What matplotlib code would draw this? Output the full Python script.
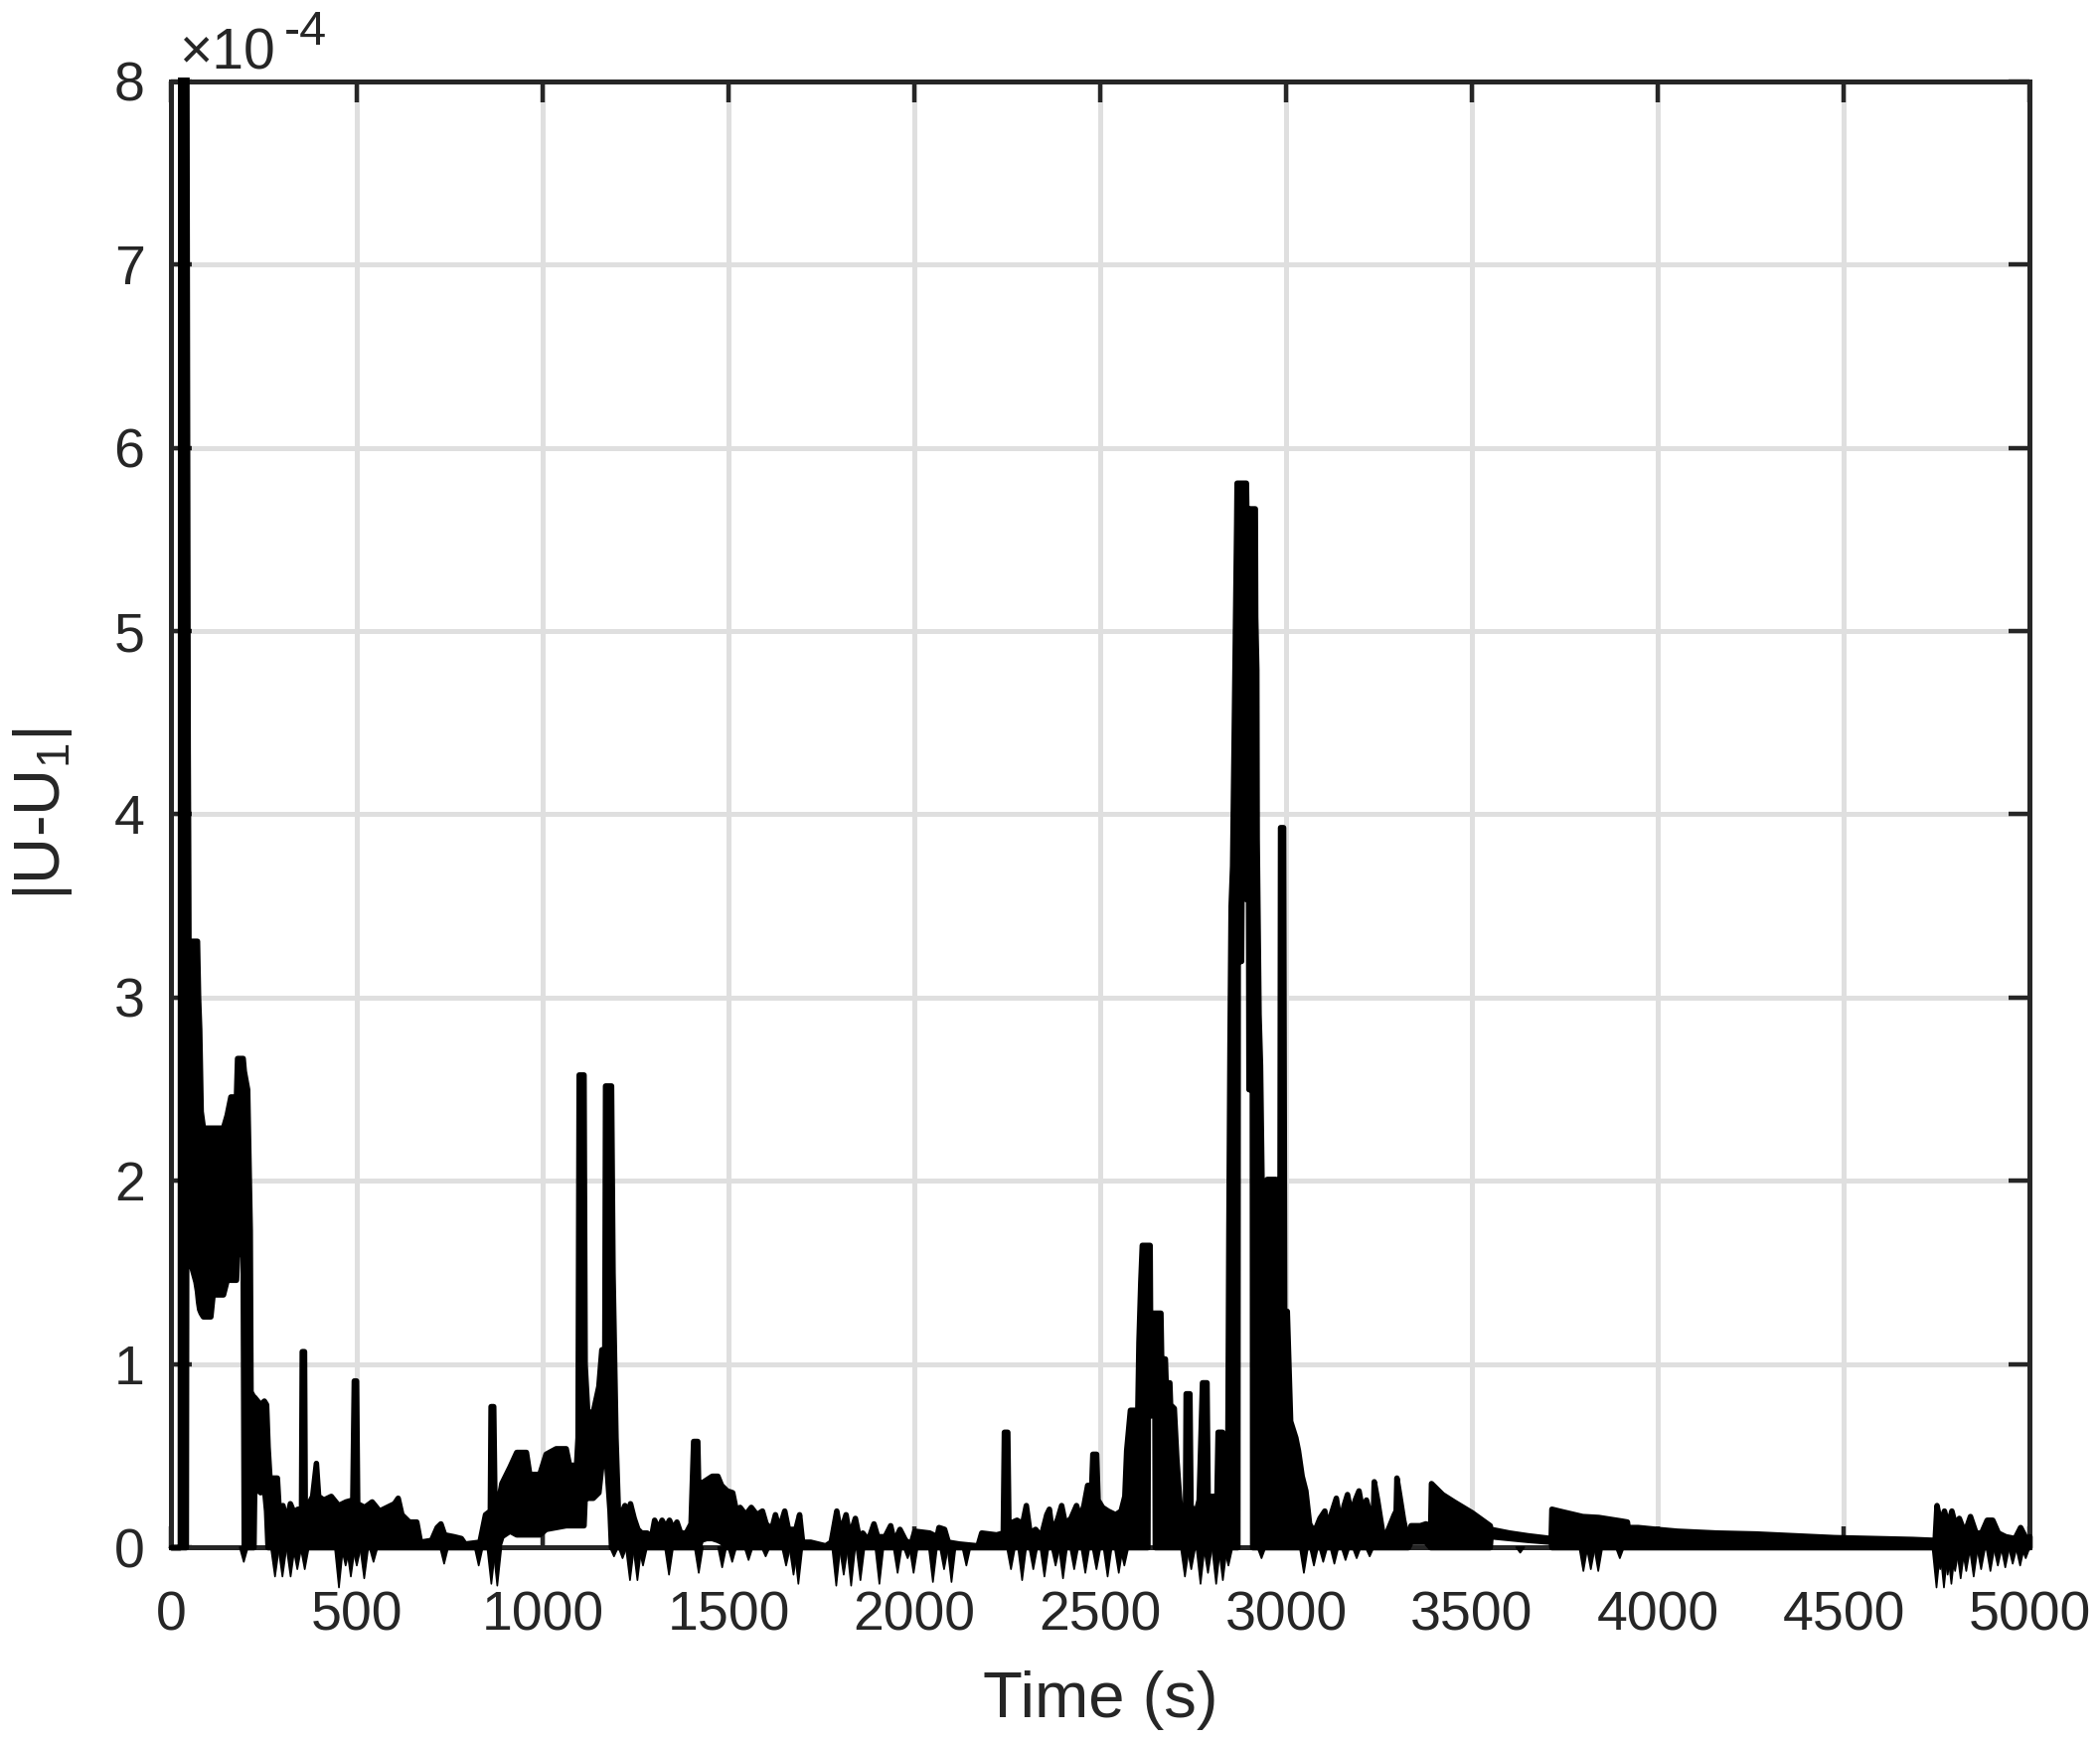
import matplotlib
matplotlib.use("Agg")
import matplotlib.pyplot as plt
from matplotlib.patches import Rectangle
from matplotlib.collections import PolyCollection

plt.rcParams['font.family'] = ['Liberation Sans', 'DejaVu Sans']
plt.rcParams['mathtext.fontset'] = 'custom'
plt.rcParams['mathtext.rm'] = 'Liberation Sans'
plt.rcParams['mathtext.it'] = 'Liberation Sans'
plt.rcParams['mathtext.default'] = 'regular'

INK = '#262626'
GRID = '#dfdfdf'

# |U-U1| in units of 1e-4. The trace oscillates so fast that it shows as a
# solid band, so each part is kept as time (s), lower edge, upper edge.
t_start = [0, 24, 25, 40, 41, 43, 44, 45, 46, 47, 66, 70, 73, 76, 80, 86,
           106, 112, 140, 150, 160, 175, 178, 193, 196, 205, 212, 214]
lo_start = [0, 0, 0, 0, 1.6, 1.6, 1.6, 1.6, 1.59, 1.59, 1.45, 1.4, 1.34, 1.3,
            1.28, 1.26, 1.26, 1.38, 1.38, 1.46, 1.46, 1.46, 1.6, 1.6, 0, 0,
            0, 0]
hi_start = [0, 0, 8.6, 8.6, 8.6, 6.4, 5.4, 4.35, 3.9, 3.31, 3.31, 3.31, 3.0,
            2.83, 2.38, 2.29, 2.29, 2.29, 2.29, 2.36, 2.46, 2.46, 2.67, 2.67,
            2.6, 2.5, 1.73, 0.85]

t_early = [222, 224, 240, 250, 256, 260, 265, 285, 290, 300, 310, 320, 330,
           340, 350, 352, 358, 360, 370, 380, 390, 396, 410, 430, 450, 470,
           488, 492, 498, 501, 520, 540, 560, 580, 600, 610, 620, 640, 660,
           670, 700, 715, 725, 735, 760, 780, 790, 830, 845, 858, 860, 867,
           870, 880, 889, 911, 929, 955, 964, 991, 1008, 1035, 1062, 1071,
           1090, 1094, 1097, 1110, 1113, 1120, 1135, 1150, 1158, 1166, 1168,
           1180, 1184, 1188, 1196, 1204]
lo_early = [0, 0.33, 0.3, 0.33, 0.2, 0, 0, 0, 0, 0, 0, 0, 0,
            0, 0, 0, 0, 0, 0, 0, 0, 0, 0, 0, 0, 0,
            0, 0, 0, 0, 0, 0, 0, 0, 0, 0, 0, 0, 0,
            0, 0, 0, 0, 0, 0, 0, 0, 0, 0, 0, 0, 0,
            0, 0, 0.06, 0.09, 0.07, 0.07, 0.07, 0.07, 0.1, 0.11, 0.12, 0.12,
            0.12, 0.12, 0.12, 0.12, 0.27, 0.27, 0.27, 0.3, 0.45, 0.58, 0.55,
            0.2, 0, 0, 0, 0]
hi_early = [0.82, 0.82, 0.78, 0.8, 0.78, 0.55, 0.38, 0.38, 0.2, 0.23, 0.14,
            0.24, 0.19, 0.21, 0.19, 1.07, 1.07, 0.2, 0.24, 0.28, 0.46, 0.28,
            0.26, 0.28, 0.23, 0.25, 0.26, 0.91, 0.91, 0.24, 0.22, 0.25, 0.2,
            0.22, 0.24, 0.27, 0.18, 0.14, 0.14, 0.03, 0.04, 0.11, 0.13, 0.07,
            0.06, 0.05, 0.02, 0.03, 0.18, 0.2, 0.77, 0.77, 0.3, 0.25, 0.35,
            0.44, 0.52, 0.52, 0.4, 0.4, 0.51, 0.54, 0.54, 0.45, 0.45, 0.6,
            2.58, 2.58, 1.0, 0.74, 0.74, 0.88, 1.08, 1.08, 2.52, 2.52, 2.52,
            1.5, 0.6, 0.1]

t_mid = [1210, 1220, 1230, 1235, 1245, 1255, 1265, 1280, 1290, 1300, 1310,
         1320, 1330, 1340, 1350, 1360, 1370, 1385, 1398, 1405, 1416, 1420,
         1425, 1440, 1455, 1470, 1480, 1495, 1510, 1520, 1530, 1545, 1560,
         1575, 1590, 1600, 1615, 1625, 1635, 1650, 1660, 1680, 1690, 1698,
         1720, 1740, 1760, 1775, 1790, 1800, 1815, 1825, 1840, 1850, 1860,
         1875, 1890, 1900, 1920, 1935, 1945, 1960, 1975, 1990, 2000, 2040,
         2060, 2065, 2080, 2090, 2120, 2170, 2180, 2220, 2238, 2241, 2250,
         2253, 2275, 2290, 2300, 2310, 2325, 2340, 2355, 2362, 2370, 2385,
         2395, 2405, 2420, 2435, 2445, 2455, 2465, 2476, 2479, 2489, 2493,
         2505, 2520, 2540, 2555]
lo_mid = [0] * 22 + [0.04, 0.05, 0.05, 0.04, 0.03] + [0] * 76
hi_mid = [0.18, 0.23, 0.18, 0.24, 0.16, 0.1, 0.08, 0.08, 0.04, 0.15, 0.1,
          0.15, 0.11, 0.15, 0.1, 0.14, 0.08, 0.08, 0.13, 0.58, 0.58, 0.18,
          0.35, 0.37, 0.39, 0.39, 0.34, 0.31, 0.3, 0.2, 0.22, 0.18, 0.22,
          0.18, 0.2, 0.13, 0.1, 0.18, 0.1, 0.2, 0.1, 0.1, 0.18, 0.03,
          0.03, 0.02, 0.01, 0.03, 0.2, 0.08, 0.18, 0.06, 0.16, 0.06, 0.08,
          0.04, 0.13, 0.06, 0.06, 0.12, 0.03, 0.1, 0.04, 0.02, 0.09, 0.08,
          0.06, 0.11, 0.1, 0.03, 0.02, 0.01, 0.08, 0.07, 0.08, 0.63, 0.63,
          0.13, 0.15, 0.13, 0.23, 0.08, 0.1, 0.06, 0.18, 0.21, 0.08, 0.16,
          0.23, 0.13, 0.16, 0.23, 0.16, 0.23, 0.34, 0.34, 0.51, 0.51, 0.26,
          0.22, 0.2, 0.18, 0.2]

t_peak = [2565, 2570, 2580, 2600, 2603, 2608, 2612, 2627, 2628, 2633, 2634,
          2646, 2647, 2662, 2664, 2674, 2676, 2686, 2688, 2698, 2705, 2712,
          2720, 2728, 2730, 2740, 2743, 2755, 2765, 2774, 2786, 2789, 2805,
          2812, 2816, 2828, 2831, 2842, 2845, 2848, 2851, 2855, 2859, 2862,
          2866, 2867, 2869, 2870, 2879, 2880, 2892, 2893, 2898, 2899, 2908,
          2909, 2916, 2917, 2920, 2921, 2926, 2930, 2935, 2938, 2948, 2972,
          2975, 2982, 2984, 2992, 2995, 3002, 3011, 3025, 3032, 3042, 3052,
          3062]
lo_peak = [0] * 8 + [0.72] * 4 + [0] * 35 + [3.2, 3.2, 3.54, 3.54, 3.54,
           3.54, 2.5, 2.5] + [0] * 23
hi_peak = [0.28, 0.53, 0.75, 0.75, 1.12, 1.45, 1.65, 1.65, 1.65, 1.65, 1.28,
           1.28, 1.28, 1.28, 1.03, 1.03, 0.9, 0.9, 0.78, 0.76, 0.48, 0.28,
           0.08, 0.1, 0.84, 0.84, 0.23, 0.18, 0.26, 0.9, 0.9, 0.28, 0.28,
           0.18, 0.63, 0.63, 0.45, 0.45, 1.73, 2.75, 3.5, 3.72, 4.38, 4.9,
           5.59, 5.81, 5.81, 5.81, 5.81, 5.81, 5.81, 5.67, 5.67, 5.67, 5.67,
           5.67, 5.67, 5.08, 4.79, 3.87, 2.91, 2.63, 1.85, 1.82, 2.01, 2.01,
           1.2, 1.2, 3.93, 3.93, 1.29, 1.29, 0.69, 0.6, 0.53, 0.39, 0.31,
           0.13]

t_tail = [3070, 3080, 3090, 3103, 3110, 3120, 3134, 3145, 3155, 3164, 3175,
          3185, 3195, 3205, 3215, 3225, 3234, 3236, 3245, 3255, 3262, 3270,
          3280, 3290, 3295, 3297, 3305, 3315, 3328, 3335, 3360, 3375, 3388,
          3390, 3420, 3451, 3500, 3548, 3550, 3600, 3650, 3712, 3714, 3734,
          3797, 3840, 3903, 3917, 3919, 3946, 3996, 4051, 4157, 4262, 4368,
          4474, 4580, 4685, 4745, 4750, 4760, 4770, 4780, 4790, 4800, 4810,
          4825, 4840, 4855, 4870, 4885, 4900, 4915, 4935, 4960, 4975, 4990,
          5000]
lo_tail = [0] * 29 + [0.03, 0.03, 0.03] + [0] * 6 + [0.06, 0.05, 0.04,
           0.03] + [0] * 36
hi_tail = [0.1, 0.11, 0.16, 0.2, 0.1, 0.18, 0.27, 0.13, 0.23, 0.29, 0.18,
           0.26, 0.31, 0.2, 0.26, 0.18, 0.2, 0.36, 0.26, 0.13, 0.04, 0.08,
           0.13, 0.18, 0.2, 0.38, 0.28, 0.15, 0.03, 0.12, 0.12, 0.13, 0.12,
           0.35, 0.29, 0.25, 0.19, 0.12, 0.1, 0.08, 0.065, 0.05, 0.21, 0.2,
           0.17, 0.165, 0.145, 0.14, 0.11, 0.11, 0.1, 0.09, 0.08, 0.075,
           0.065, 0.055, 0.05, 0.045, 0.04, 0.23, 0.13, 0.2, 0.12, 0.2, 0.12,
           0.16, 0.08, 0.17, 0.08, 0.08, 0.15, 0.15, 0.08, 0.06, 0.05, 0.11,
           0.05, 0.06]

# sharp corners of the thick stroke poke out under the zero line:
# where (s) and how deep (1e-4) each one reaches
spill_t = [196, 280, 300, 322, 340, 360, 452, 470, 484, 500, 520, 545, 735,
           828, 862, 878, 1192, 1215, 1235, 1255, 1270, 1340, 1420, 1483,
           1510, 1554, 1600, 1655, 1675, 1688, 1790, 1810, 1830, 1855, 1906,
           1955, 1982, 1998, 2050, 2080, 2100, 2140, 2260, 2290, 2320, 2350,
           2380, 2400, 2430, 2460, 2490, 2520, 2550, 2565, 2728, 2745, 2770,
           2790, 2812, 2830, 2845, 2934, 3048, 3075, 3100, 3130, 3160, 3190,
           3225, 3630, 3800, 3820, 3840, 3898, 4750, 4760, 4770, 4780, 4790,
           4800, 4815, 4830, 4850, 4870, 4895, 4915, 4935, 4955, 4975, 4990]
spill_v = [-0.08, -0.16, -0.16, -0.16, -0.12, -0.12, -0.22, -0.1, -0.16,
           -0.1, -0.17, -0.08, -0.09, -0.1, -0.2, -0.21, -0.05, -0.06, -0.18,
           -0.18, -0.1, -0.15, -0.14, -0.11, -0.08, -0.07, -0.05, -0.1,
           -0.15, -0.2, -0.21, -0.15, -0.21, -0.18, -0.2, -0.14, -0.06,
           -0.14, -0.19, -0.12, -0.19, -0.1, -0.12, -0.18, -0.12, -0.16,
           -0.1, -0.17, -0.12, -0.14, -0.12, -0.16, -0.14, -0.1, -0.16,
           -0.12, -0.2, -0.14, -0.2, -0.18, -0.1, -0.06, -0.14, -0.1, -0.08,
           -0.09, -0.07, -0.06, -0.05, -0.03, -0.13, -0.12, -0.13, -0.06,
           -0.22, -0.12, -0.22, -0.15, -0.2, -0.13, -0.17, -0.13, -0.16,
           -0.12, -0.13, -0.1, -0.11, -0.09, -0.1, -0.06]

x_ticks = list(range(0, 5001, 500))
y_ticks = list(range(0, 9))

t = t_start + t_early + t_mid + t_peak + t_tail
lo = lo_start + lo_early + lo_mid + lo_peak + lo_tail
hi = hi_start + hi_early + hi_mid + hi_peak + hi_tail

W, H = 2113, 1753
fig = plt.figure(figsize=(W / 200, H / 200), dpi=200)
ax = fig.add_axes([172 / W, 1 - 1557 / H, 1870 / W, 1475 / H])

# MATLAB lets the stroke spill a little past the axes box
clip = Rectangle((-0.01, -0.06), 1.02, 1.063, transform=ax.transAxes)

band = ax.fill_between(t, lo, hi, facecolor='black', edgecolor='black',
                       linewidth=2.0, zorder=3)
band.set_clip_path(clip)

half = 11  # half base of a spill spike, s
tris = [[(s - half, 0), (s, v), (s + half, 0)] for s, v in zip(spill_t, spill_v)]
spikes = PolyCollection(tris, facecolor='black', edgecolor='black',
                        linewidth=0.6, zorder=3)
ax.add_collection(spikes)
spikes.set_clip_path(clip)

ax.set_xlim(0, 5000)
ax.set_ylim(0, 8)
ax.set_xticks(x_ticks)
ax.set_yticks(y_ticks)
ax.grid(True, color=GRID, linewidth=1.8)
ax.set_axisbelow(True)
for s in ax.spines.values():
    s.set_color(INK)
    s.set_linewidth(1.8)
ax.tick_params(direction='in', length=7.5, width=1.6, color=INK,
               labelcolor=INK, labelsize=20, top=True, right=True)
ax.tick_params(axis='x', pad=15.5)
ax.tick_params(axis='y', pad=9.5)

ax.set_xlabel('Time (s)', fontsize=23.5, color=INK, va='top')
ax.xaxis.set_label_coords(0.5, -0.084)
ax.set_ylabel('|U-U$_1$|', fontsize=23.5, color=INK)
ax.yaxis.set_label_coords(-0.052, 0.5)

fig.text(180 / W, 1 - 70 / H, '\u00d710', fontsize=20.5, color=INK,
         ha='left', va='baseline')
fig.text(286 / W, 1 - 45 / H, '-4', fontsize=17.5, color=INK,
         ha='left', va='baseline')

fig.savefig('out.png', dpi=200)
